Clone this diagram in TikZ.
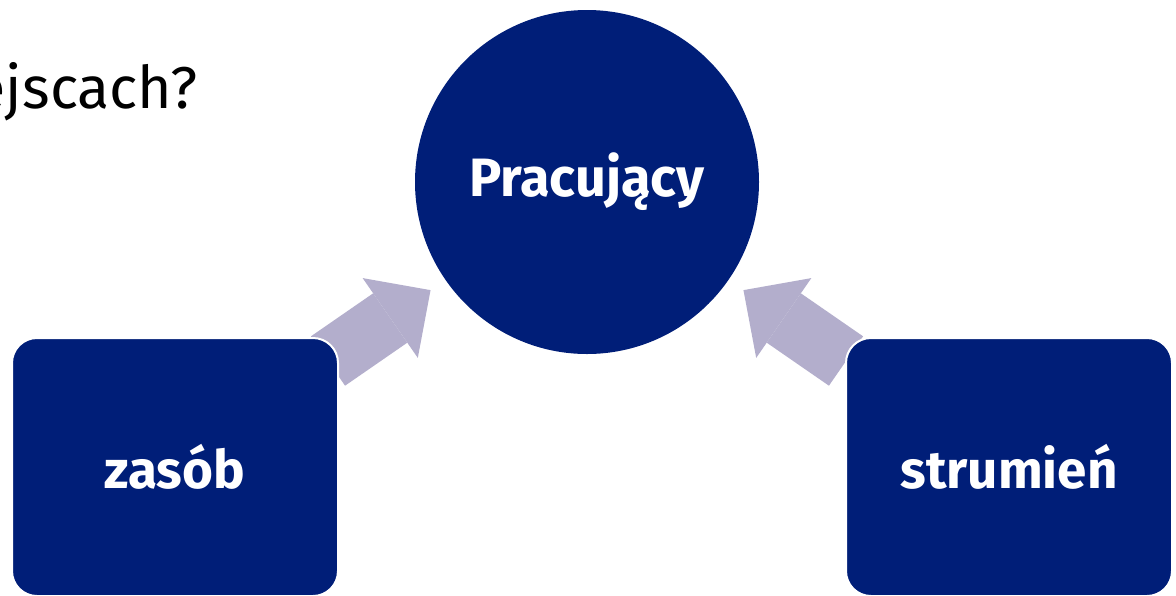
\documentclass[tikz,border=0pt]{standalone}
\usepackage{fontspec}
\setmainfont{Fira Sans}
\usetikzlibrary{arrows.meta}
\definecolor{navy}{RGB}{0,30,120}
\definecolor{lilac}{RGB}{179,174,204}
\tikzset{
    boxnode/.style={rectangle, rounded corners=25pt, fill=navy, draw=white, line width=2pt,
        minimum width=326pt, minimum height=258pt, text=white,
        font=\fontsize{53}{64}\selectfont\bfseries},
    ballnode/.style={circle, fill=navy, minimum size=344pt, inner sep=0pt, text=white,
        font=\fontsize{54}{65}\selectfont\bfseries},
    bigarrow/.style={draw=lilac, line width=60pt, shorten >=18pt,
        -{Triangle[length=49pt, width=97pt, line width=0pt]}}
}
\begin{document}
\begin{tikzpicture}[x=1pt, y=-1pt]
            \useasboundingbox (0, 0) rectangle (1176, 595);
            \fill[white] (0, 0) rectangle (1176, 595);
            \node[anchor=base east, inner sep=0pt, font=\fontsize{59}{71}\selectfont] (title) at (198, 108) {ejscach?};
            \node[ballnode] (work) at (587, 182) {Pracujący};
            \coordinate (ltail) at (328, 361);
            \coordinate (rtail) at (846, 361);
            \draw[bigarrow] (ltail) -- (work);
            \draw[bigarrow] (rtail) -- (work);
            \node[boxnode] (stock) at (175, 467) {zasób};
            \node[boxnode] (flow) at (1009, 467) {strumień};
        \end{tikzpicture}
\end{document}
